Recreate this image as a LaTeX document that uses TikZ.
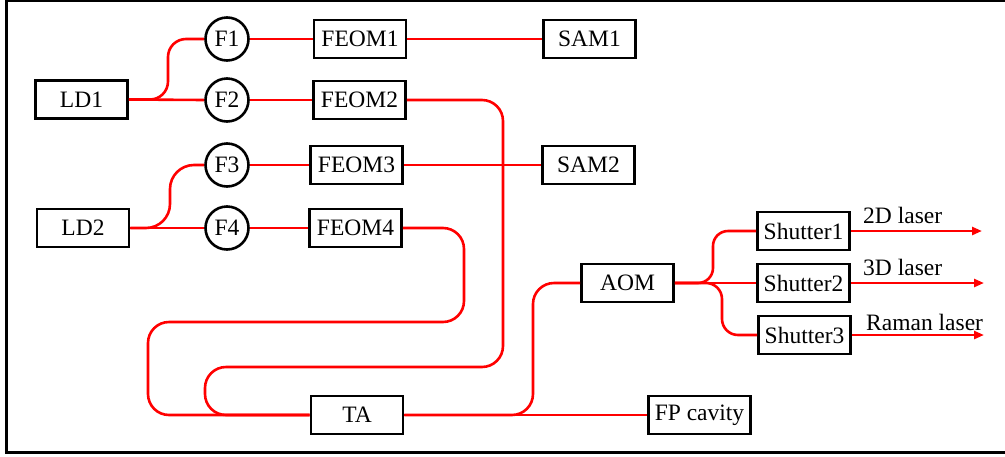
\documentclass[tikz,border=0pt]{standalone}
\usepackage{fontspec}
\setmainfont{Liberation Serif}
\usetikzlibrary{arrows.meta}
\begin{document}
\begin{tikzpicture}[x=1pt,y=-1pt,
  txt/.style={font=\fontsize{23.5}{26}\selectfont},
  box/.style={txt,draw=black,line width=2.8pt,minimum width=92pt,minimum height=38pt,inner xsep=6pt,inner ysep=0pt},
  filt/.style={txt,draw=black,circle,line width=2.6pt,minimum size=43pt,inner sep=0pt},
  fiber/.style={draw=red,line width=2.6pt},
  outarrow/.style={fiber,-{Triangle[length=10pt,width=8pt]}},
  lbl/.style={txt,inner sep=0pt,anchor=base west}]
\useasboundingbox (0,0) rectangle (1005,456);
\fill[white] (0,0) rectangle (1005,456);
\draw[line width=3pt] (1010,0.5) -- (6.5,0.5) -- (6.5,452.5) -- (1010,452.5);

\node[box] (LD1) at (81.5,99.5) {LD1};
\node[box] (LD2) at (83,228) {LD2};
\node[filt] (F1) at (227,39) {F1};
\node[filt] (F2) at (227,100) {F2};
\node[filt] (F3) at (227,165) {F3};
\node[filt] (F4) at (227,228) {F4};
\node[box] (FEOM1) at (360,39) {FEOM1};
\node[box] (FEOM2) at (359.5,100) {FEOM2};
\node[box] (FEOM3) at (356.5,165) {FEOM3};
\node[box] (FEOM4) at (355.5,228) {FEOM4};
\node[box] (SAM1) at (589.5,39) {SAM1};
\node[box] (SAM2) at (588.5,165) {SAM2};
\node[box] (TA) at (357,415) {TA};
\node[box] (AOM) at (627.5,283) {AOM};
\node[box] (FP) at (699.5,415) {FP cavity};
\node[box] (S1) at (803.5,231) {Shutter1};
\node[box] (S2) at (803.5,283) {Shutter2};
\node[box] (S3) at (804.5,335) {Shutter3};

\coordinate (o1) at (982,231);
\coordinate (o2) at (984,283);
\coordinate (o3) at (984,335);

% LD1 branch
\draw[fiber] (LD1.east) -- (F2.west);
\draw[fiber,rounded corners=18] (LD1.east) -- (168,99.5) -- (168,39) -- (F1.west);
\draw[fiber] (F1.east) -- (FEOM1.west);
\draw[fiber] (F2.east) -- (FEOM2.west);
\draw[fiber] (FEOM1.east) -- (SAM1.west);
% LD2 branch
\draw[fiber] (LD2.east) -- (F4.west);
\draw[fiber,rounded corners=24] (LD2.east) -- (170,228) -- (170,165) -- (F3.west);
\draw[fiber] (F3.east) -- (FEOM3.west);
\draw[fiber] (F4.east) -- (FEOM4.west);
\draw[fiber] (FEOM3.east) -- (SAM2.west);
% loops into TA
\draw[fiber,rounded corners=21] (FEOM2.east) -- (503,100) -- (503,367) -- (205,367) -- (205,415) -- (TA.west);
\draw[fiber,rounded corners=21] (FEOM4.east) -- (464,228) -- (464,322) -- (148,322) -- (148,415) -- (TA.west);
% TA outputs
\draw[fiber] (TA.east) -- (FP.west);
\draw[fiber,rounded corners=21] (TA.east) -- (533,415) -- (533,283) -- (AOM.west);
% AOM outputs
\draw[fiber] (AOM.east) -- (S2.west);
\draw[fiber,rounded corners=15] (AOM.east) -- (713,283) -- (713,231) -- (S1.west);
\draw[fiber,rounded corners=16] (AOM.east) -- (722,283) -- (722,335) -- (S3.west);
% laser outputs
\draw[outarrow] (S1.east) -- (o1);
\draw[outarrow] (S2.east) -- (o2);
\draw[outarrow] (S3.east) -- (o3);
\node[lbl] (L1) at (863,223) {2D laser};
\node[lbl] (L2) at (863,275) {3D laser};
\node[lbl] (L3) at (866,330) {Raman laser};
\end{tikzpicture}
\end{document}
